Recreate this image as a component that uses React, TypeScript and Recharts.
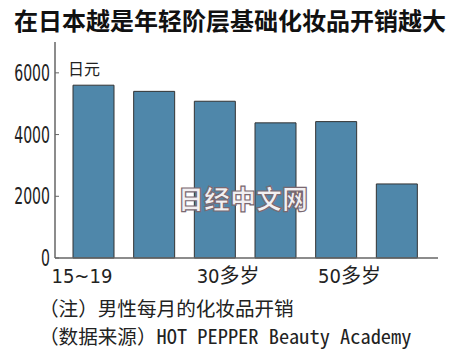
import React from "react";
import { BarChart, Bar, XAxis, YAxis } from "recharts";

const categories = ["15~19", "20多岁", "30多岁", "40多岁", "50多岁", "60多岁"];
const spending = [5600, 5400, 5080, 4380, 4420, 2400];
const yTicks = [0, 2000, 4000, 6000];

const data = categories.map((c, i) => ({ name: c, value: spending[i] }));

const CJK = "'Noto Sans CJK SC', 'Noto Sans CJK JP', sans-serif";
const NARROW = "'Liberation Sans Narrow', 'DejaVu Sans Condensed', " + CJK;
const MONO = "'Noto Sans Mono CJK SC', 'DejaVu Sans Mono', 'Liberation Mono', " + CJK;

const XTick = (props: any) => {
  const { x, y, payload, index } = props;
  const first = index === 0;
  return (
    <text
      x={first ? x + 19 : x - 18}
      y={y + 17}
      textAnchor={first ? "end" : "start"}
      fontSize={20}
      fontFamily={NARROW}
      fill="#222"
    >
      {payload.value}
    </text>
  );
};

const YTick = (props: any) => {
  const { x, y, payload } = props;
  const axisX = x + 5;
  return (
    <g>
      <line x1={axisX} x2={axisX + 4} y1={y} y2={y} stroke="#666" strokeWidth={1} />
      <text
        transform={`translate(${x}, ${y}) scale(0.68, 1)`}
        x={0}
        y={8}
        textAnchor="end"
        fontSize={23}
        fontFamily="'DejaVu Sans Condensed', 'DejaVu Sans', sans-serif"
        fill="#222"
      >
        {payload.value}
      </text>
    </g>
  );
};

export default function App() {
  return (
    <div style={{ position: "absolute", left: 0, top: 0, width: 450, height: 355, background: "#fff", overflow: "hidden" }}>
      <div
        style={{
          position: "absolute",
          left: 14,
          top: 4,
          fontFamily: CJK,
          fontWeight: 700,
          fontSize: 24,
          lineHeight: "32px",
          color: "#111",
          whiteSpace: "nowrap",
        }}
      >
        在日本越是年轻阶层基础化妆品开销越大
      </div>
      <div style={{ position: "absolute", left: 0, top: 0 }}>
        <BarChart width={450} height={290} data={data} margin={{ top: 42, right: 12, left: 0, bottom: 0 }}>
          <XAxis
            dataKey="name"
            interval={1}
            tickLine={false}
            axisLine={{ stroke: "#666", strokeWidth: 1.5 }}
            padding={{ left: 8, right: 11 }}
            height={32}
            tick={<XTick />}
          />
          <YAxis
            domain={[0, 7000]}
            ticks={yTicks}
            width={55}
            tickSize={0}
            tickMargin={5}
            axisLine={{ stroke: "#666", strokeWidth: 1.5 }}
            tickLine={false}
            tick={<YTick />}
            interval={0}
          />
          <Bar dataKey="value" fill="#4f87aa" stroke="#333" strokeWidth={1} barSize={41} isAnimationActive={false} />
        </BarChart>
      </div>
      <div style={{ position: "absolute", left: 68, top: 57, fontFamily: CJK, fontSize: 16, lineHeight: "22px", color: "#222" }}>
        日元
      </div>
      <div
        style={{
          position: "absolute",
          left: 178,
          top: 182,
          fontFamily: CJK,
          fontWeight: 900,
          fontSize: 26,
          lineHeight: "32px",
          color: "#f2f0f2",
          WebkitTextStroke: "1.2px #7a6870",
          whiteSpace: "nowrap",
        }}
      >
        日经中文网
      </div>
      <div
        style={{
          position: "absolute",
          left: 39,
          top: 296,
          fontFamily: MONO,
          fontSize: 19.6,
          lineHeight: "24px",
          color: "#222",
          whiteSpace: "nowrap",
        }}
      >
        （注）男性每月的化妆品开销
      </div>
      <div
        style={{
          position: "absolute",
          left: 39,
          top: 323,
          fontFamily: MONO,
          fontSize: 19.6,
          lineHeight: "24px",
          color: "#222",
          whiteSpace: "nowrap",
        }}
      >
        （数据来源）<span style={{ fontSize: 20.4 }}>HOT PEPPER Beauty Academy</span>
      </div>
    </div>
  );
}
